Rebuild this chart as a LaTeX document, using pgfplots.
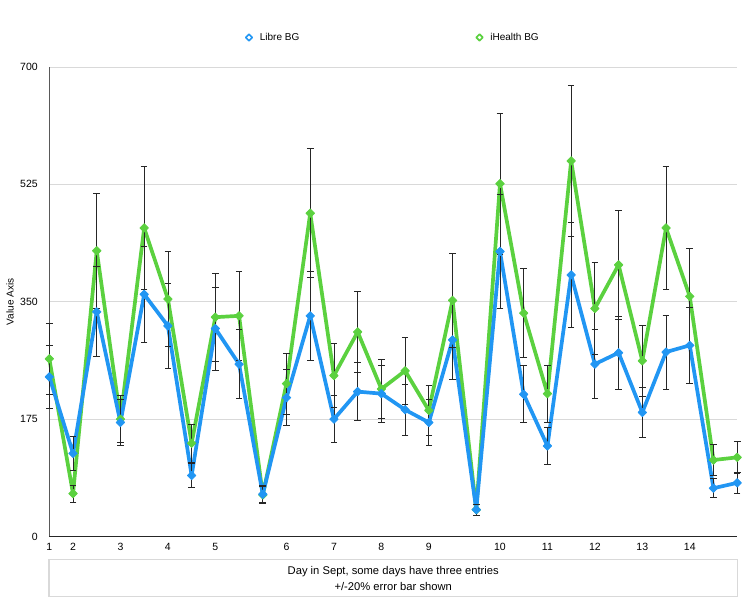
\documentclass[border=0pt]{standalone}
\usepackage{pgfplots}
\usepackage{pgfplotstable}
\pgfplotsset{compat=1.18}
\usepackage{fontspec}
\setmainfont{Liberation Sans}
\definecolor{libre}{HTML}{2196F3}
\definecolor{ihealth}{HTML}{5BD13F}
\definecolor{gridgray}{HTML}{D9D9D9}

% idx = entry number along the x axis (days 1..14, some days have several entries)
\pgfplotstableread{
idx libre ihealth
0  238 265
1  124  64
2  335 426
3  170 175
4  361 460
5  314 354
6   91 139
7  310 327
8  257 329
9   63  62
10 207 228
11 329 482
12 175 240
13 216 305
14 213 220
15 189 247
16 170 188
17 293 352
18  40  40
19 425 526
20 212 333
21 135 213
22 390 560
23 257 340
24 274 405
25 185 262
26 275 460
27 285 358
28  72 114
29  80 118
}\bgdata

\pgfplotsset{
  bgline/.style={color=#1, line width=3.7pt, line join=round,
    mark=square*, mark size=3pt, mark options={solid, rotate=45, fill=#1, line width=0.8pt},
    legend image code/.code={\draw[mark=square, mark size=2.3pt, line width=1.6pt,
        mark options={solid, rotate=45, fill=white}] plot coordinates {(-7pt,0pt)};
        \path (0pt,0pt);}},
  bgerr/.style={forget plot, draw=none, mark=none,
    error bars/.cd, y dir=both, y fixed relative=0.2,
    error bar style={draw=black!85, solid, line width=0.8pt},
    error mark options={rotate=90, draw=black!85, mark size=3.3pt, line width=0.8pt}},
}

\begin{document}
\begin{tikzpicture}[x=1pt,y=1pt]
\begin{axis}[
    at={(49.3pt,63.5pt)}, anchor=south west,
    scale only axis, width=687.9pt, height=469.5pt,
    xmin=0, xmax=29, ymin=0, ymax=700,
    clip=false,
    axis x line*=bottom, axis y line*=left,
    x axis line style={black!85, line width=1.2pt},
    y axis line style={black!65, line width=1.2pt},
    xtick={0,1,3,5,7,10,12,14,16,19,21,23,25,27},
    xticklabels={1,2,3,4,5,6,7,8,9,10,11,12,13,14},
    ytick={0,175,350,525,700},
    major tick length=0pt,
    ymajorgrids, grid style={gridgray, line width=0.8pt},
    tick label style={font=\fontsize{10.5}{12}\selectfont},
    /pgf/number format/assume math mode=true,
    yticklabel style={xshift=-8pt},
    xticklabel style={yshift=-3pt},
    ylabel={Value Axis},
    ylabel style={at={(axis description cs:-0.0571,0.5)}, anchor=center, font=\fontsize{10}{12}\selectfont},
    xlabel={Day in Sept, some days have three entries\\+/-20\% error bar shown},
    xlabel style={at={(axis description cs:0.5,0)}, anchor=north, yshift=-22.5pt,
        draw=gridgray, line width=1.5pt, minimum width=688pt, minimum height=37pt,
        align=center, font=\fontsize{11.2}{16}\selectfont},
    legend style={at={(0.5,1)}, anchor=south, yshift=21pt, draw=none, fill=none,
        legend columns=2, font=\fontsize{10}{12}\selectfont,
        /tikz/every even column/.append style={column sep=175pt}},
    reverse legend,
]
\addplot[bgline=ihealth] table[x=idx, y=ihealth] {\bgdata};
\addlegendentry{iHealth BG}
\addplot[bgline=libre] table[x=idx, y=libre] {\bgdata};
\addlegendentry{Libre BG}
\addplot[bgerr] table[x=idx, y=ihealth] {\bgdata};
\addplot[bgerr] table[x=idx, y=libre] {\bgdata};
\end{axis}
\pgfresetboundingbox
\useasboundingbox (0pt,0pt) rectangle (756pt,600pt);
\end{tikzpicture}
\end{document}
